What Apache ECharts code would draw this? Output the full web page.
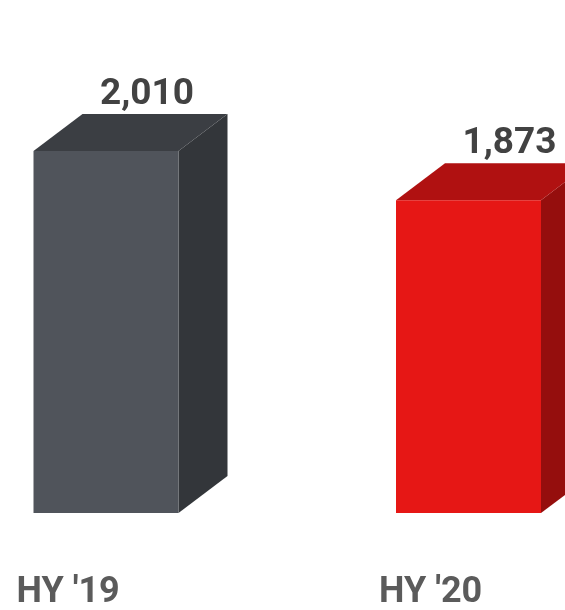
<!DOCTYPE html>
<html>
<head>
<meta charset="utf-8">
<style>
  html, body { margin: 0; padding: 0; background: #ffffff; }
  #chart { width: 565px; height: 610px; }
</style>
<script src="https://cdn.jsdelivr.net/npm/echarts@6/dist/echarts.min.js"></script>
</head>
<body>
<div id="chart"></div>
<script>
// Half-year totals
const categories = ['HY \'19', 'HY \'20'];
const values = [2010, 1873];

// Face colours per bar: front, top, side
const frontColors = ['#50545b', '#e61715'];
const topColors = ['#3b3e43', '#b01111'];
const sideColors = ['#33363a', '#950e0d'];

const yMin = 1000;
const yMax = 2200;

const chart = echarts.init(document.getElementById('chart'), null, { renderer: 'canvas' });

const FONT = 'Roboto, "Noto Sans", sans-serif';

chart.setOption({
  animation: false,
  backgroundColor: '#ffffff',
  grid: { left: 106, right: 96.5, top: 83, bottom: 97 },
  xAxis: { type: 'value', min: 0, max: 1, show: false },
  yAxis: { type: 'value', min: yMin, max: yMax, show: false },
  series: [{
    type: 'custom',
    clip: false,
    data: values.map((v, i) => [i, v]),
    renderItem(params, api) {
      const i = api.value(0);
      const v = api.value(1);
      const base = api.coord([i, yMin]);
      const top = api.coord([i, v]);
      const half = 72.5, dx = 49, dy = 37;
      const xl = base[0] - half, xr = base[0] + half;
      const yt = top[1], yb = base[1];
      return {
        type: 'group',
        children: [
          {
            type: 'polygon',
            shape: { points: [[xr, yt], [xr + dx, yt - dy], [xr + dx, yb - dy], [xr, yb]] },
            style: { fill: sideColors[i] }
          },
          {
            type: 'polygon',
            shape: { points: [[xl, yt], [xl + dx, yt - dy], [xr + dx, yt - dy], [xr, yt]] },
            style: { fill: topColors[i] }
          },
          {
            type: 'rect',
            shape: { x: xl, y: yt, width: xr - xl, height: yb - yt },
            style: { fill: frontColors[i] }
          },
          {
            type: 'text',
            style: {
              x: base[0] + 41,
              y: yt - dy - 19,
              text: v.toLocaleString('en-US'),
              fill: '#424242',
              font: 'bold 37px ' + FONT,
              align: 'center',
              verticalAlign: 'middle'
            }
          },
          {
            type: 'text',
            style: {
              x: xl - 17,
              y: yb + 80,
              text: categories[i],
              fill: '#5b5b5b',
              font: 'bold 36px ' + FONT,
              align: 'left',
              verticalAlign: 'middle'
            }
          }
        ]
      };
    }
  }]
});
</script>
</body>
</html>
